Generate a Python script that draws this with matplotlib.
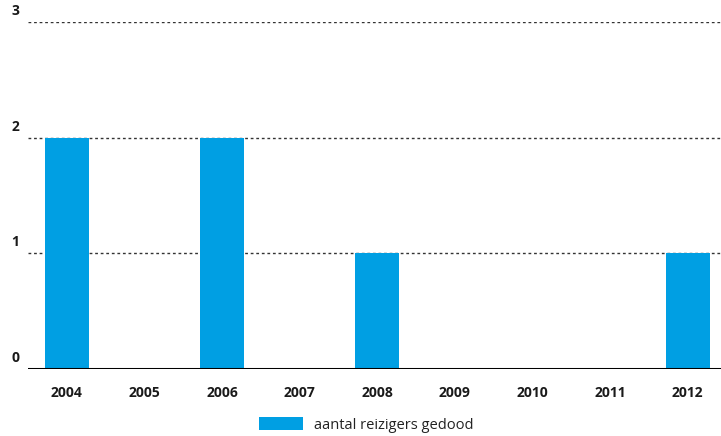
import matplotlib
matplotlib.use("Agg")
import matplotlib.pyplot as plt
from matplotlib.patches import Patch
import matplotlib.transforms as mtrans

years = ["2004", "2005", "2006", "2007", "2008", "2009", "2010", "2011", "2012"]
gedood = [2, 0, 2, 0, 1, 0, 0, 0, 1]
yticks = [0, 1, 2, 3]

blue = "#009FE3"
dark = "#1a1a1a"

fig = plt.figure(figsize=(7.21, 4.36), dpi=100)
ax = fig.add_axes([28 / 721, 1 - 369 / 436, 1 - 28 / 721, (369 - 22) / 436])

x = list(range(len(years)))
ax.bar(x, gedood, width=0.57, color=blue, zorder=3)

ax.set_xlim(-0.5, 8.43)
ax.set_ylim(0, 3)

for v in yticks[1:]:
    ax.axhline(v, color="#333333", lw=1, ls=(0, (2, 2)), zorder=1)
ax.axhline(0, color="black", lw=2.2, zorder=4)

for s in ax.spines.values():
    s.set_visible(False)
ax.set_xticks(x)
ax.set_xticklabels(years, fontfamily="Open Sans", fontweight="bold", fontsize=10, color=dark)
ax.tick_params(axis="x", length=0, pad=12)
ax.set_yticks([])

# labels sit a little above their gridline
tr = mtrans.blended_transform_factory(fig.transFigure, ax.transData) + \
    mtrans.ScaledTranslation(0, 4 / 100, fig.dpi_scale_trans)
for v in yticks:
    ax.text(15 / 721, v, str(v), transform=tr, ha="center", va="bottom",
            fontfamily="Open Sans", fontweight="bold", fontsize=10, color=dark)

handle = Patch(facecolor=blue, edgecolor="none")
fig.legend([handle], ["aantal reizigers gedood"], loc="center", bbox_to_anchor=(0.508, 1 - 425 / 436),
           frameon=False, prop={"family": "Open Sans", "size": 10.5}, labelcolor="#222222",
           handlelength=3.0, handleheight=1.0, handletextpad=0.8)

fig.savefig("out.png", dpi=100)
